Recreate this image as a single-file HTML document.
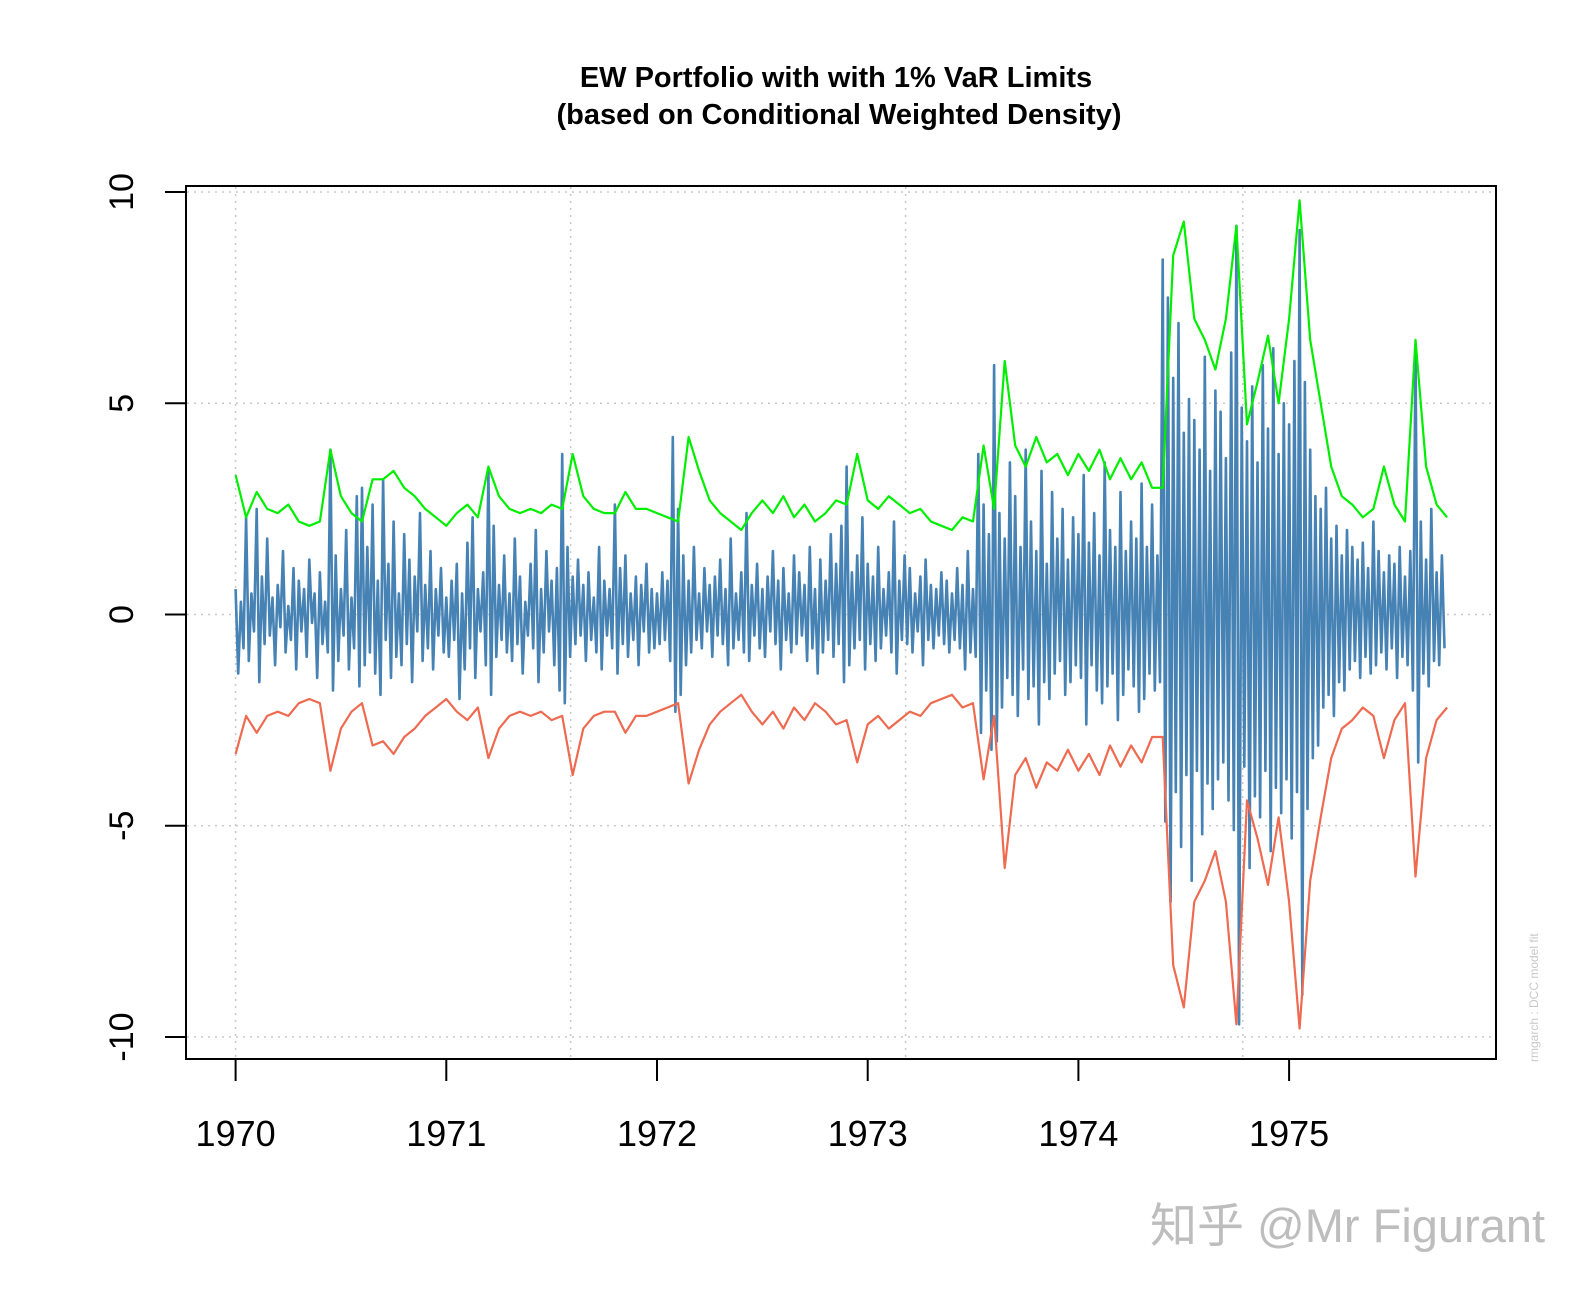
<!DOCTYPE html>
<html><head><meta charset="utf-8"><style>
body{margin:0;background:#fff;width:1592px;height:1292px;overflow:hidden}
svg{display:block;font-family:"Liberation Sans","Noto Sans CJK SC",sans-serif}
</style></head><body>
<svg id="chart" width="1592" height="1292">
<text x="836" y="87" text-anchor="middle" font-size="29" font-weight="bold">EW Portfolio with with 1% VaR Limits</text>
<text x="839" y="124" text-anchor="middle" font-size="29" font-weight="bold">(based on Conditional Weighted Density)</text>
<g id="grid"></g>
<g id="series"></g>
<rect x="186" y="186" width="1310" height="873" fill="none" stroke="#000" stroke-width="2"/>
<g id="axes"></g>
<text transform="translate(1538,1062) rotate(-90)" font-size="12" fill="#c8c8c8">rmgarch : DCC model fit</text>
<text x="1150" y="1242" font-size="47" fill="#bdbdbd">知乎 @Mr Figurant</text>
</svg>
<script>
const yTicks=[-10,-5,0,5,10];
const xTickYears=[1970,1971,1972,1973,1974,1975];
const gridXYears=[1970,1971.59,1973.18,1974.78];
const varStart=1970, varStep=0.05;
const upperVaR=[3.3,2.3,2.9,2.5,2.4,2.6,2.2,2.1,2.2,3.9,2.8,2.4,2.2,3.2,3.2,3.4,3.0,2.8,2.5,2.3,
2.1,2.4,2.6,2.3,3.5,2.8,2.5,2.4,2.5,2.4,2.6,2.5,3.8,2.8,2.5,2.4,2.4,2.9,2.5,2.5,
2.4,2.3,2.2,4.2,3.4,2.7,2.4,2.2,2.0,2.4,2.7,2.4,2.8,2.3,2.6,2.2,2.4,2.7,2.6,3.8,
2.7,2.5,2.8,2.6,2.4,2.5,2.2,2.1,2.0,2.3,2.2,4.0,2.5,6.0,4.0,3.5,4.2,3.6,3.8,3.3,
3.8,3.4,3.9,3.2,3.7,3.2,3.6,3.0,3.0,8.5,9.3,7.0,6.5,5.8,7.0,9.2,4.5,5.5,6.6,5.0,
7.0,9.8,6.5,5.0,3.5,2.8,2.6,2.3,2.5,3.5,2.6,2.2,6.5,3.5,2.6,2.3];
const lowerVaR=[-3.3,-2.4,-2.8,-2.4,-2.3,-2.4,-2.1,-2.0,-2.1,-3.7,-2.7,-2.3,-2.1,-3.1,-3.0,-3.3,-2.9,-2.7,-2.4,-2.2,
-2.0,-2.3,-2.5,-2.2,-3.4,-2.7,-2.4,-2.3,-2.4,-2.3,-2.5,-2.4,-3.8,-2.7,-2.4,-2.3,-2.3,-2.8,-2.4,-2.4,
-2.3,-2.2,-2.1,-4.0,-3.2,-2.6,-2.3,-2.1,-1.9,-2.3,-2.6,-2.3,-2.7,-2.2,-2.5,-2.1,-2.3,-2.6,-2.5,-3.5,
-2.6,-2.4,-2.7,-2.5,-2.3,-2.4,-2.1,-2.0,-1.9,-2.2,-2.1,-3.9,-2.4,-6.0,-3.8,-3.4,-4.1,-3.5,-3.7,-3.2,
-3.7,-3.3,-3.8,-3.1,-3.6,-3.1,-3.5,-2.9,-2.9,-8.3,-9.3,-6.8,-6.3,-5.6,-6.8,-9.7,-4.4,-5.3,-6.4,-4.8,
-6.8,-9.8,-6.3,-4.8,-3.4,-2.7,-2.5,-2.2,-2.4,-3.4,-2.5,-2.1,-6.2,-3.4,-2.5,-2.2];
const retStep=0.0125;
const returns=[0.6,-1.4,0.3,-0.8,2.3,-1.1,0.5,-0.4,2.5,-1.6,0.9,-0.7,1.8,-0.5,0.4,-1.2,0.7,-0.3,1.5,-0.9,0.2,-0.6,1.1,-1.3,0.8,-0.4,0.6,-1.0,1.3,-0.2,0.5,-1.5,1.0,-0.7,0.3,-0.9,3.9,-1.8,1.4,-1.1,0.6,-0.5,2.0,-1.3,0.4,-0.8,2.8,-1.7,3.0,-1.2,1.6,-0.9,2.6,-1.4,0.8,-1.9,3.2,-0.6,1.2,-1.5,2.2,-1.0,0.5,-1.2,1.9,-0.7,1.3,-1.6,0.9,-0.4,2.4,-1.1,0.7,-0.8,1.5,-1.3,0.6,-0.5,1.1,-0.9,
0.4,-1.0,0.8,-0.6,1.2,-2.0,0.5,-1.3,1.7,-0.8,2.3,-1.5,0.6,-0.4,1.0,-1.2,3.4,-1.9,2.1,-1.0,0.7,-0.6,1.4,-0.9,0.5,-1.1,1.8,-0.7,0.9,-1.4,0.3,-0.5,1.2,-0.8,2.0,-1.6,0.6,-0.9,1.5,-0.4,0.8,-1.2,1.1,-1.8,3.8,-2.1,1.6,-1.0,0.9,-0.7,1.3,-0.5,0.7,-1.1,1.0,-0.6,0.4,-0.9,1.6,-1.3,0.8,-0.5,0.6,-0.8,2.6,-1.4,1.1,-0.7,1.4,-1.0,0.5,-0.6,0.9,-1.2,0.7,-0.4,1.2,-0.9,0.6,-0.8,
0.5,-0.7,1.0,-0.6,0.8,-1.1,4.2,-2.3,2.5,-1.9,1.4,-1.2,0.8,-0.9,1.6,-0.6,0.5,-0.8,1.1,-0.4,0.7,-1.0,0.9,-0.5,1.3,-0.7,0.6,-1.2,1.8,-0.8,0.5,-0.6,1.0,-0.9,2.4,-1.1,0.7,-0.5,1.2,-0.8,0.6,-1.0,0.9,-0.4,1.5,-0.7,0.8,-1.3,1.1,-0.6,0.5,-0.9,1.4,-0.7,1.0,-0.5,0.7,-1.1,1.6,-0.8,0.6,-1.4,1.3,-0.9,0.8,-0.6,1.9,-1.0,1.2,-0.7,2.1,-1.6,3.5,-1.2,1.0,-0.8,1.4,-0.6,2.3,-1.3,
1.2,-0.7,0.9,-1.1,1.6,-0.8,0.6,-0.5,1.0,-0.9,2.2,-1.4,0.8,-0.6,1.4,-0.7,1.1,-0.9,0.5,-0.4,0.9,-1.2,1.3,-0.6,0.7,-0.8,0.6,-0.5,1.0,-0.7,0.8,-0.9,0.5,-0.6,1.1,-0.8,0.7,-1.3,1.5,-0.9,0.6,-1.0,3.8,-2.8,2.6,-1.8,1.9,-3.2,5.9,-3.0,2.4,-2.2,1.8,-1.5,3.6,-1.9,2.8,-2.4,1.6,-1.3,3.9,-2.0,2.2,-1.7,1.5,-2.6,3.4,-1.6,1.2,-2.0,2.9,-1.4,1.8,-1.1,2.5,-1.9,1.3,-1.6,2.3,-1.2,
1.9,-1.5,3.3,-2.6,1.7,-1.2,2.4,-1.8,1.4,-2.1,3.6,-1.7,2.0,-1.4,1.6,-2.5,2.9,-1.9,1.5,-1.3,2.2,-1.7,1.8,-2.3,3.1,-2.0,1.6,-1.4,2.6,-1.8,1.4,-1.6,8.4,-4.9,7.5,-6.8,5.6,-4.2,6.9,-5.5,4.3,-3.8,5.1,-6.3,4.6,-3.7,3.9,-5.2,6.1,-4.0,3.4,-4.6,5.3,-3.9,4.8,-3.5,3.7,-4.4,6.2,-5.1,9.2,-9.7,4.9,-3.6,4.1,-6.0,5.4,-4.3,3.6,-4.8,5.9,-3.7,4.4,-5.6,6.3,-4.1,3.8,-4.7,5.0,-3.9,
4.5,-5.3,6.0,-4.2,9.1,-9.0,5.5,-4.6,3.9,-3.4,2.8,-3.1,2.5,-2.2,3.0,-1.9,1.8,-2.4,2.1,-1.6,1.4,-1.8,2.0,-1.3,1.6,-1.1,1.3,-1.5,1.7,-1.0,1.1,-1.4,2.2,-1.2,1.5,-0.9,1.0,-1.3,1.4,-0.8,1.2,-1.5,1.6,-1.0,0.9,-1.2,1.5,-1.8,6.3,-3.5,2.2,-1.4,1.3,-1.7,2.5,-1.1,1.0,-1.2,1.4,-0.8];

const NS='http://www.w3.org/2000/svg';
const X=yr=>235.6+(yr-1970)*210.7;
const Y=v=>614.5-v*42.25;
function mk(tag,attrs,parent){const e=document.createElementNS(NS,tag);for(const k in attrs)e.setAttribute(k,attrs[k]);document.getElementById(parent).appendChild(e);return e;}

yTicks.forEach(v=>{
  const g=mk('line',{x1:187,x2:1495,y1:Y(v),y2:Y(v),stroke:'#c8c8c8','stroke-width':1.5,'stroke-dasharray':'2,5'},'grid');
  
  
  const t=mk('line',{x1:165,x2:186,y1:Y(v),y2:Y(v),stroke:'#000','stroke-width':2},'axes');
  
  
  const l=mk('text',{transform:`translate(133,${Y(v)}) rotate(-90)`,'text-anchor':'middle','font-size':34},'axes');
  l.textContent=v;
  
  
});
gridXYears.forEach(yr=>{
  const g=mk('line',{x1:X(yr),x2:X(yr),y1:187,y2:1058,stroke:'#c8c8c8','stroke-width':1.5,'stroke-dasharray':'2,5'},'grid');
  
  
});
mk('line',{x1:X(1970),x2:X(1975),y1:1059,y2:1059,stroke:'#000','stroke-width':2},'axes');
xTickYears.forEach(yr=>{
  const t=mk('line',{x1:X(yr),x2:X(yr),y1:1059,y2:1081,stroke:'#000','stroke-width':2},'axes');
  
  
  const l=mk('text',{x:X(yr),y:1146,'text-anchor':'middle','font-size':36},'axes');
  l.textContent=yr;
  
  
});
function poly(arr,start,step,color,w,name){
  const pts=arr.map((v,i)=>X(start+i*step).toFixed(1)+','+Y(v).toFixed(1)).join(' ');
  const p=mk('polyline',{points:pts,fill:'none',stroke:color,'stroke-width':w,'stroke-linejoin':'round'},'series');
  
  
}
poly(returns,1970,retStep,'#4682b4',2.6,'portfolio-returns-line');
poly(upperVaR,varStart,varStep,'#00ee00',2.2,'upper-var-line');
poly(lowerVaR,varStart,varStep,'#ee6a50',2.2,'lower-var-line');
</script>
</body></html>
